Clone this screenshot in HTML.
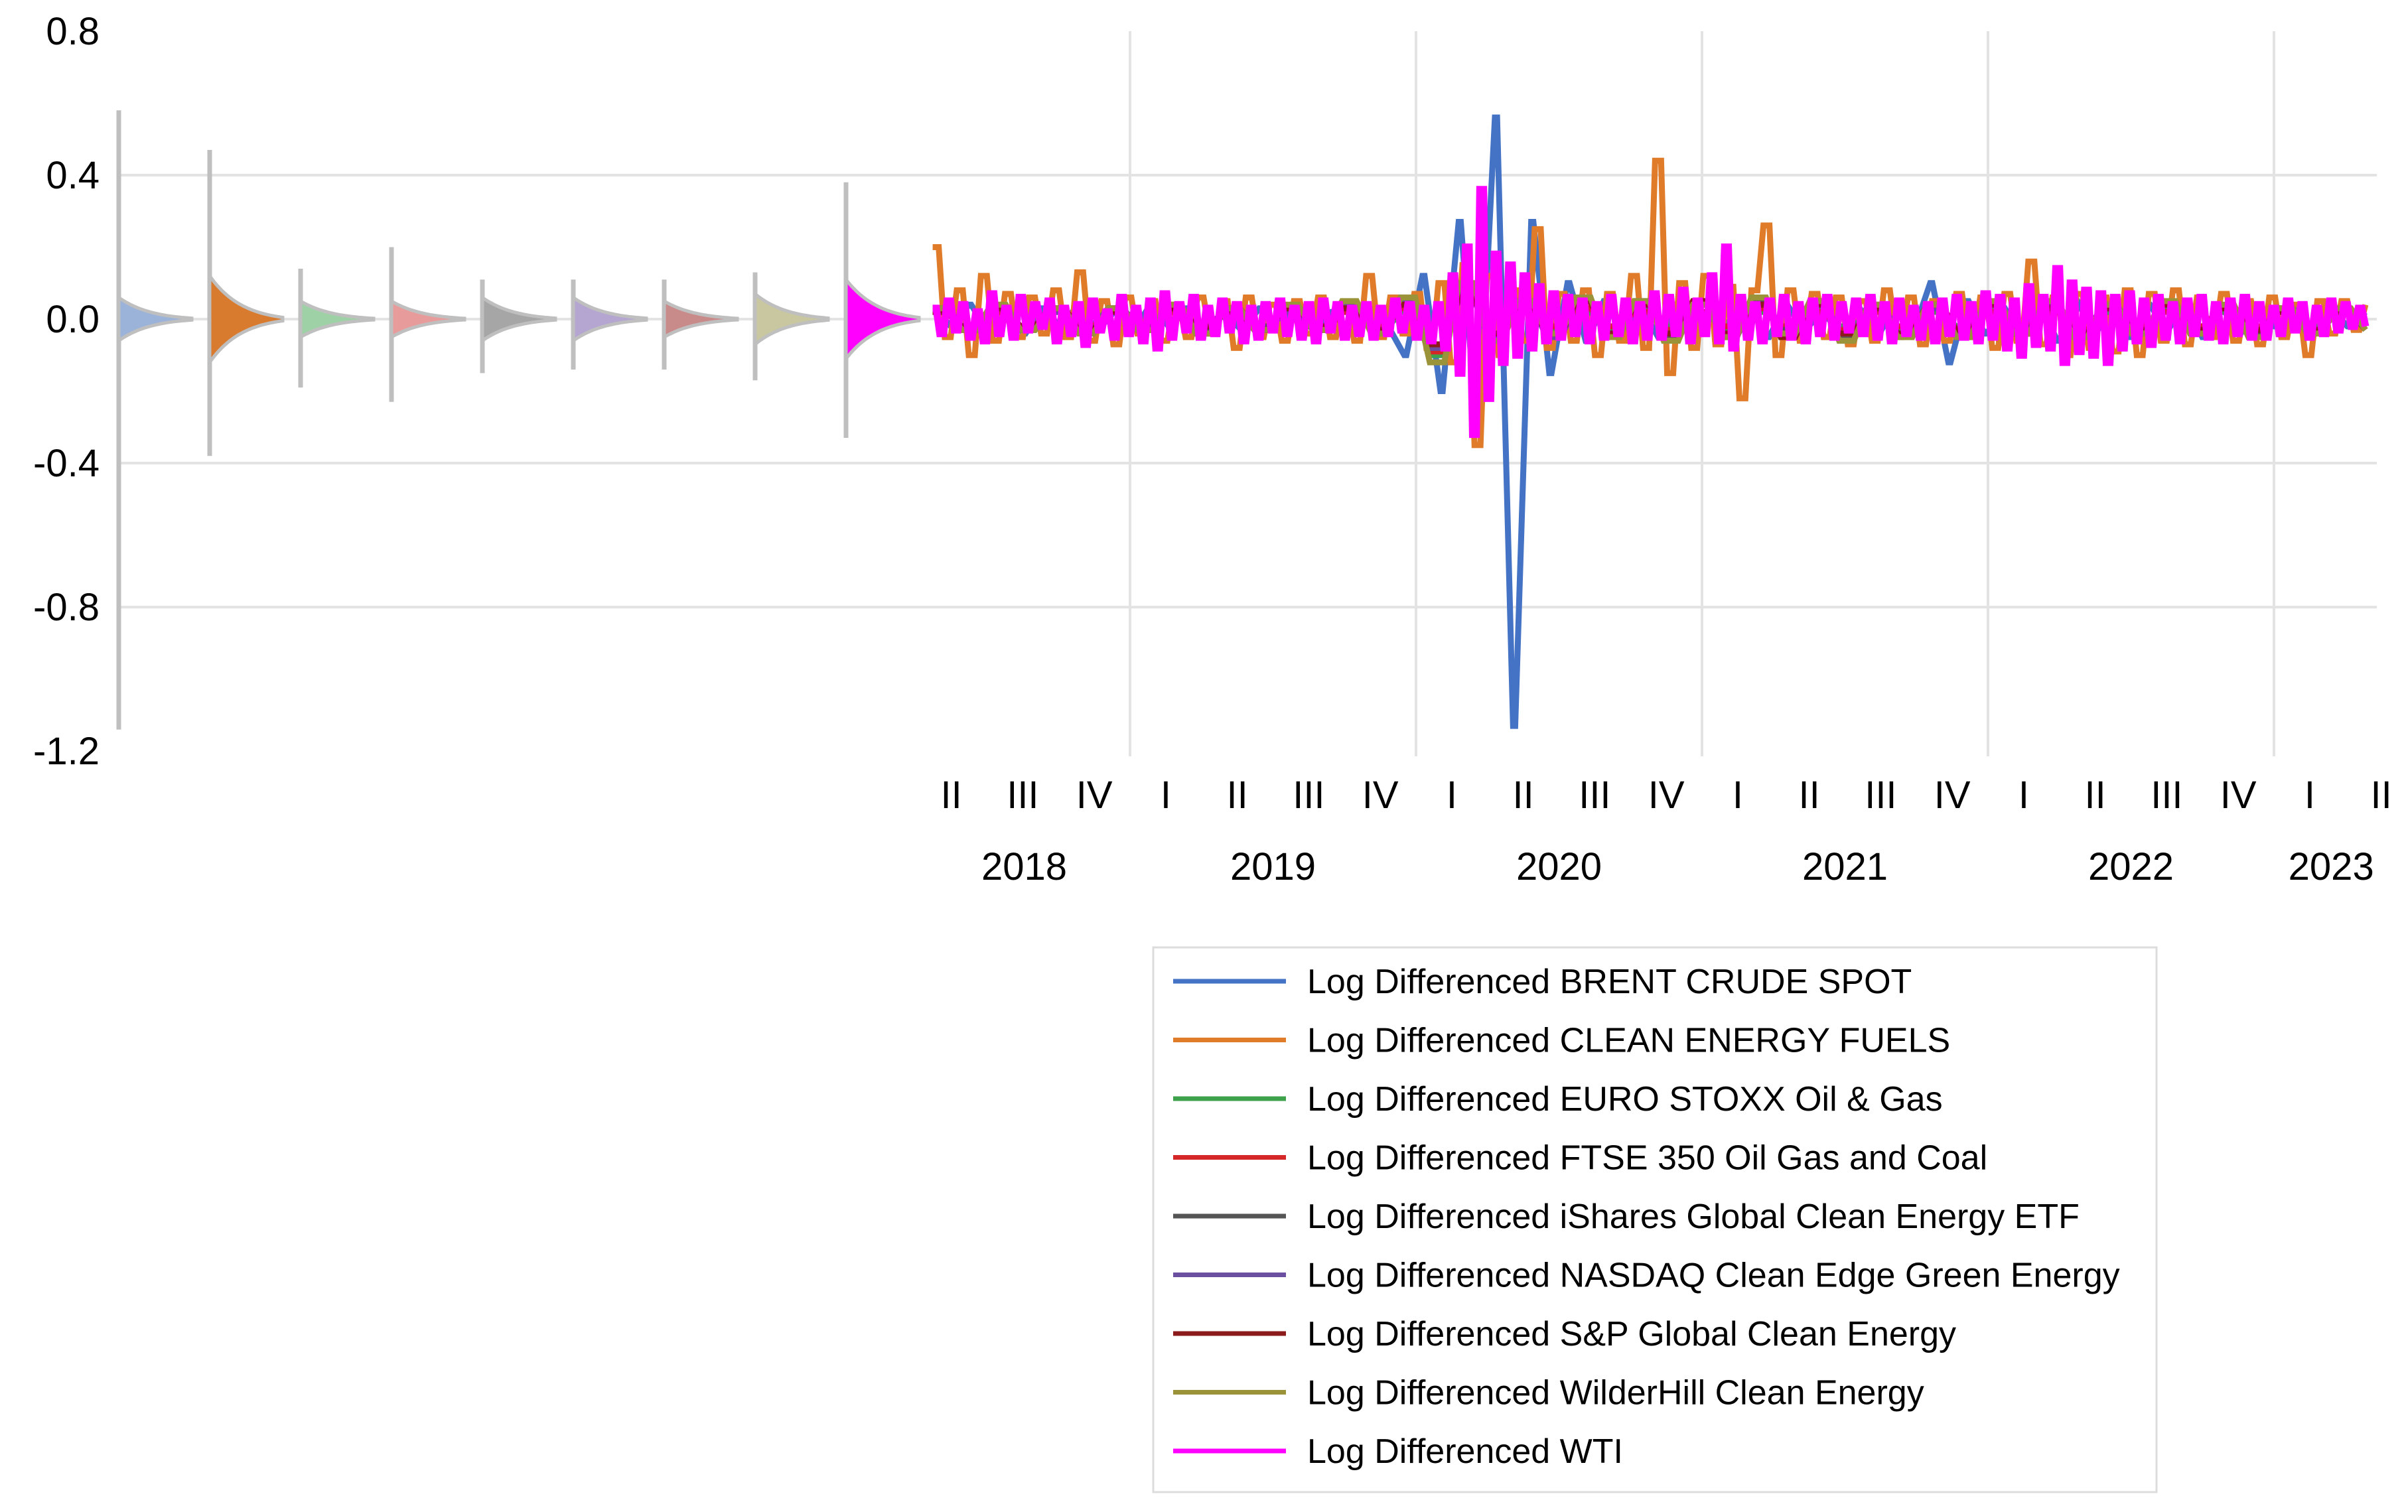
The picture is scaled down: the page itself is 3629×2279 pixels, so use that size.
<!DOCTYPE html>
<html><head><meta charset="utf-8">
<style>
html,body{margin:0;padding:0;background:#fff;}
svg{display:block;font-family:"Liberation Sans Narrow","Liberation Sans",sans-serif;}
</style></head>
<body>
<svg id="chart" width="3629" height="2279" viewBox="0 0 3629 2279">
<g id="grid"></g>
<g id="yaxis"></g>
<g id="xaxis"></g>
<g id="violins"></g>
<g id="series"></g>
<g id="legend"></g>
</svg>
<script>
const yTicks = [0.8, 0.4, 0.0, -0.4, -0.8, -1.2];
const yTickLabels = ["0.8","0.4","0.0","-0.4","-0.8","-1.2"];
const quarterLabels = ["II","III","IV","I","II","III","IV","I","II","III","IV","I","II","III","IV","I","II","III","IV","I","II"];
const quarterTimes = [2018.375,2018.625,2018.875,2019.125,2019.375,2019.625,2019.875,2020.125,2020.375,2020.625,2020.875,2021.125,2021.375,2021.625,2021.875,2022.125,2022.375,2022.625,2022.875,2023.125,2023.375];
const yearLabels = ["2018","2019","2020","2021","2022","2023"];
const yearLabelTimes = [2018.63,2019.5,2020.5,2021.5,2022.5,2023.2];
const yearGridTimes = [2019,2020,2021,2022,2023];
const seriesNames = ["Log Differenced BRENT CRUDE SPOT","Log Differenced CLEAN ENERGY FUELS","Log Differenced EURO STOXX Oil & Gas","Log Differenced FTSE 350 Oil Gas and Coal","Log Differenced iShares Global Clean Energy ETF","Log Differenced NASDAQ Clean Edge Green Energy","Log Differenced S&P Global Clean Energy","Log Differenced WilderHill Clean Energy","Log Differenced WTI"];
const seriesColors = ["#4472c4","#e07b2a","#3ea14b","#d62728","#555555","#6a4fa0","#8c1c1c","#9a933a","#ff00ff"];
const violinFills = ["#9bb3d9","#d97b2f","#9fd1a6","#e89b9b","#a6a6a6","#b4a6d0","#c98a8a","#c9c79f","#ff00ff"];
const violinMax = [0.58,0.47,0.14,0.2,0.11,0.11,0.11,0.13,0.38];
const violinMin = [-1.14,-0.38,-0.19,-0.23,-0.15,-0.14,-0.14,-0.17,-0.33];
const violinSpread = [0.06,0.12,0.05,0.05,0.06,0.06,0.05,0.07,0.11];
const startTime = 2018.31, endTime = 2023.32;

const brent = [0.03,-0.02,0.04,-0.03,0.02,-0.04,0.03,-0.02,0.04,-0.03,0.02,-0.03,0.04,-0.02,0.03,-0.04,0.02,-0.03,0.03,-0.02,
0.04,-0.03,0.02,-0.04,0.03,-0.02,-0.1,0.12,-0.2,0.27,-0.32,0.56,-1.13,0.27,-0.15,0.1,-0.06,0.05,-0.04,0.03,
-0.05,0.04,-0.03,0.05,-0.04,0.03,-0.05,0.04,-0.03,0.02,-0.04,0.03,-0.05,0.04,-0.03,0.1,-0.12,0.05,-0.04,0.03,
-0.05,0.04,-0.06,0.05,-0.04,0.03,-0.05,0.04,-0.03,0.04,-0.05,0.03,-0.04,0.03,-0.02,0.03,-0.02,0.03,-0.02,0.02];
const cleanFuels = [0.2,-0.05,0.08,-0.1,0.12,-0.06,0.07,-0.05,0.06,-0.04,0.08,-0.05,0.13,-0.06,0.05,-0.07,0.06,-0.04,0.05,-0.06,
0.04,-0.05,0.06,-0.04,0.05,-0.08,0.06,-0.05,0.04,-0.06,0.05,-0.04,0.06,-0.05,0.04,-0.06,0.12,-0.05,0.06,-0.04,
0.07,-0.08,0.1,-0.12,0.15,-0.35,0.12,-0.1,0.08,-0.06,0.25,-0.08,0.07,-0.06,0.08,-0.1,0.07,-0.06,0.12,-0.08,
0.44,-0.15,0.1,-0.08,0.12,-0.07,0.09,-0.22,0.08,0.26,-0.1,0.08,-0.06,0.07,-0.05,0.06,-0.07,0.05,-0.06,0.08,
-0.05,0.06,-0.07,0.05,-0.06,0.07,-0.05,0.06,-0.08,0.07,-0.06,0.16,-0.07,0.06,-0.1,0.07,-0.08,0.06,-0.09,0.08,
-0.1,0.07,-0.06,0.08,-0.07,0.06,-0.05,0.07,-0.06,0.05,-0.07,0.06,-0.05,0.04,-0.1,0.05,-0.04,0.05,-0.03,0.04];
const euroStoxx = [0.03,-0.02,0.02,-0.03,0.02,-0.02,0.03,-0.02,0.02,-0.03,0.02,-0.03,0.03,-0.02,0.02,-0.03,0.02,-0.1,0.08,-0.05,0.04,-0.03,0.02,-0.03,0.03,-0.02,0.02,-0.03,0.02,-0.02,0.03,-0.02,0.02,-0.03,0.02,-0.02,0.03,-0.02,0.03,-0.03,0.02,-0.02,0.03,-0.02,0.02,-0.03,0.02,-0.02,0.02,-0.02];
const ftse = [0.02,-0.03,0.02,-0.02,0.03,-0.02,0.02,-0.03,0.02,-0.02,0.03,-0.02,0.02,-0.03,0.02,-0.02,0.03,-0.09,0.07,-0.04,0.03,-0.02,0.03,-0.02,0.02,-0.03,0.02,-0.02,0.03,-0.02,0.02,-0.03,0.02,-0.02,0.03,-0.03,0.02,-0.02,0.02,-0.03,0.03,-0.02,0.02,-0.02,0.03,-0.02,0.02,-0.03,0.02,-0.02];
const ishares = [0.02,-0.03,0.03,-0.02,0.02,-0.03,0.03,-0.02,0.03,-0.03,0.02,-0.02,0.03,-0.03,0.04,-0.03,0.04,-0.08,0.07,-0.05,0.05,-0.04,0.05,-0.04,0.04,-0.05,0.04,-0.04,0.05,-0.03,0.04,-0.05,0.03,-0.04,0.03,-0.04,0.04,-0.03,0.04,-0.04,0.03,-0.03,0.04,-0.03,0.03,-0.04,0.03,-0.03,0.02,-0.03];
const nasdaq = [0.03,-0.02,0.03,-0.03,0.02,-0.03,0.03,-0.03,0.03,-0.02,0.03,-0.03,0.02,-0.03,0.04,-0.03,0.05,-0.08,0.06,-0.05,0.04,-0.05,0.05,-0.04,0.05,-0.04,0.04,-0.05,0.04,-0.04,0.05,-0.04,0.04,-0.04,0.03,-0.04,0.04,-0.04,0.03,-0.04,0.04,-0.03,0.04,-0.03,0.03,-0.03,0.03,-0.03,0.02,-0.02];
const spClean = [0.02,-0.02,0.03,-0.02,0.03,-0.03,0.02,-0.03,0.03,-0.02,0.02,-0.03,0.03,-0.02,0.03,-0.03,0.04,-0.07,0.06,-0.04,0.04,-0.04,0.05,-0.04,0.04,-0.04,0.05,-0.04,0.04,-0.05,0.04,-0.04,0.03,-0.04,0.04,-0.03,0.04,-0.04,0.03,-0.04,0.03,-0.03,0.04,-0.03,0.03,-0.03,0.02,-0.03,0.02,-0.02];
const wilderhill = [0.03,-0.03,0.04,-0.03,0.03,-0.04,0.03,-0.03,0.04,-0.04,0.03,-0.03,0.04,-0.03,0.05,-0.04,0.06,-0.12,0.1,-0.06,0.05,-0.04,0.06,-0.05,0.05,-0.06,0.04,-0.05,0.06,-0.04,0.05,-0.06,0.04,-0.05,0.04,-0.05,0.05,-0.04,0.05,-0.05,0.04,-0.04,0.05,-0.04,0.04,-0.05,0.03,-0.04,0.03,-0.03];
const wti = [0.03,-0.04,0.05,-0.03,0.04,-0.05,0.02,-0.06,0.07,-0.04,0.03,-0.05,0.06,-0.03,0.04,-0.02,0.05,-0.06,0.03,-0.04,
0.04,-0.07,0.05,-0.03,0.02,-0.05,0.06,-0.04,0.03,-0.06,0.05,-0.08,0.07,-0.05,0.04,-0.03,0.06,-0.05,0.03,-0.04,
0.05,-0.03,0.04,-0.06,0.03,-0.05,0.04,-0.03,0.05,-0.04,0.03,-0.05,0.04,-0.06,0.05,-0.03,0.04,-0.05,0.03,-0.04,
0.04,-0.05,0.03,-0.04,0.05,-0.03,0.04,-0.05,0.03,-0.06,0.04,-0.08,0.12,-0.15,0.2,-0.32,0.36,-0.22,0.18,-0.12,
0.15,-0.1,0.12,-0.08,0.09,-0.06,0.07,-0.05,0.06,-0.04,0.05,-0.06,0.04,-0.05,0.06,-0.04,0.05,-0.06,0.04,-0.05,
0.07,-0.05,0.06,-0.04,0.08,-0.06,0.05,-0.04,0.12,-0.06,0.2,-0.08,0.06,-0.05,0.04,-0.06,0.05,-0.04,0.06,-0.05,
0.04,-0.06,0.05,-0.04,0.06,-0.05,0.04,-0.03,0.05,-0.04,0.06,-0.05,0.04,-0.06,0.05,-0.04,0.03,-0.05,0.04,-0.06,
0.05,-0.04,0.06,-0.05,0.04,-0.06,0.07,-0.05,0.06,-0.08,0.05,-0.1,0.09,-0.07,0.06,-0.08,0.14,-0.12,0.1,-0.09,
0.08,-0.1,0.07,-0.12,0.06,-0.08,0.07,-0.06,0.05,-0.07,0.06,-0.05,0.04,-0.06,0.05,-0.04,0.06,-0.05,0.04,-0.06,
0.05,-0.04,0.06,-0.05,0.04,-0.05,0.03,-0.04,0.05,-0.03,0.04,-0.05,0.03,-0.04,0.05,-0.03,0.04,-0.02,0.03,-0.02];
const seriesData = [brent, cleanFuels, euroStoxx, ftse, ishares, nasdaq, spClean, wilderhill, wti];

const NS = "http://www.w3.org/2000/svg";
const PLOT_L = 179, PLOT_R = 3582, PLOT_T = 47, PLOT_B = 1132;
function yScale(v){ return 481 - v * 542.6; }
function xScale(t){ return 1272 + (t - 2018) * 431; }
function mk(tag, attrs, parent){ const e = document.createElementNS(NS, tag); for (const k in attrs) e.setAttribute(k, attrs[k]); parent.appendChild(e); return e; }

const grid = document.getElementById('grid');
yTicks.forEach((v, i) => {
  if (v >= 0.8 || v <= -1.2) return;
  const l = mk('line', {x1: PLOT_L, x2: PLOT_R, y1: yScale(v), y2: yScale(v), stroke: '#e3e3e3', 'stroke-width': 4}, grid);
  
  
});
yearGridTimes.forEach(t => {
  const l = mk('line', {x1: xScale(t), x2: xScale(t), y1: PLOT_T, y2: 1140, stroke: '#e3e3e3', 'stroke-width': 4}, grid);
  
  
});

const yaxis = document.getElementById('yaxis');
yTicks.forEach((v, i) => {
  const t = mk('text', {x: 150, y: yScale(v) + 20, 'text-anchor': 'end', 'font-size': 58, fill: '#000'}, yaxis);
  t.textContent = yTickLabels[i];
  
  
});

const xaxis = document.getElementById('xaxis');
quarterLabels.forEach((q, i) => {
  const t = mk('text', {x: xScale(quarterTimes[i]), y: 1218, 'text-anchor': 'middle', 'font-size': 58, fill: '#000'}, xaxis);
  t.textContent = q;
  
  
});
yearLabels.forEach((y, i) => {
  const t = mk('text', {x: xScale(yearLabelTimes[i]), y: 1326, 'text-anchor': 'middle', 'font-size': 58, fill: '#000'}, xaxis);
  t.textContent = y;
  
  
});

const violins = document.getElementById('violins');
const vSpacing = 137, vStart = 179, vWidth = 110;
violinMax.forEach((mx, i) => {
  const x0 = vStart + i * vSpacing;
  const g = mk('g', {}, violins);
  
  
  mk('line', {x1: x0, x2: x0, y1: yScale(mx), y2: yScale(violinMin[i]), stroke: '#bfbfbf', 'stroke-width': 7}, g);
  let top = [], bot = [];
  for (let k = 0; k <= 30; k++) {
    const d = k / 30;
    const h = violinSpread[i] * Math.exp(-1.6 * d) * (1 - d * 0.8);
    top.push((x0 + d * vWidth).toFixed(1) + ',' + yScale(h).toFixed(1));
    bot.unshift((x0 + d * vWidth).toFixed(1) + ',' + yScale(-h).toFixed(1));
  }
  mk('polygon', {points: top.concat(bot).join(' '), fill: violinFills[i], stroke: '#bfbfbf', 'stroke-width': 5}, g);
});

const series = document.getElementById('series');
seriesData.forEach((arr, s) => {
  const n = arr.length;
  const step = (endTime - startTime) / (n - 1);
  const frac = s === 0 ? 0.12 : 0.5;
  const pts = [];
  arr.forEach((v, i) => {
    const xa = xScale(startTime + i * step), xb = xScale(startTime + Math.min(i + frac, n - 1) * step);
    pts.push(xa.toFixed(1) + ',' + yScale(v).toFixed(1));
    pts.push(xb.toFixed(1) + ',' + yScale(v).toFixed(1));
  });
  const p = mk('polyline', {points: pts.join(' '), fill: 'none', stroke: seriesColors[s], 'stroke-width': s === 8 ? 11 : 9, 'stroke-linejoin': 'miter'}, series);
  
  
});

const legend = document.getElementById('legend');
const box = mk('rect', {x: 1738, y: 1428, width: 1512, height: 821, fill: '#fff', stroke: '#dcdcdc', 'stroke-width': 3}, legend);


seriesNames.forEach((nm, i) => {
  const y = 1479 + i * 88.5;
  const g = mk('g', {}, legend);
  
  
  mk('line', {x1: 1768, x2: 1938, y1: y, y2: y, stroke: seriesColors[i], 'stroke-width': 7}, g);
  const t = mk('text', {x: 1970, y: y + 18, 'font-size': 52, fill: '#000'}, g);
  t.textContent = nm;
});
</script>
</body></html>
